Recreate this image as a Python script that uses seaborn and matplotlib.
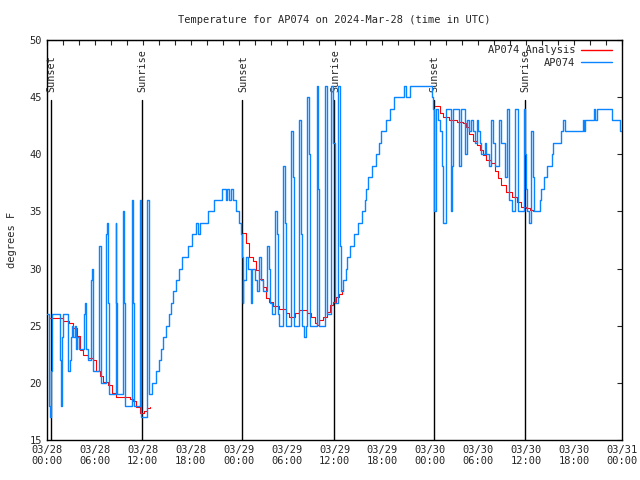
import numpy as np
import pandas as pd
import matplotlib
matplotlib.use("Agg")
import matplotlib.pyplot as plt
from matplotlib.ticker import MultipleLocator
import seaborn as sns

# observed temperature (hours since 03/28 00:00 UTC, degrees F)
obs_hours = [0.0, 0.2, 0.3, 0.4, 0.5, 0.6, 1.6, 1.7, 1.85, 2.0, 2.6, 2.85, 2.95, 3.1, 3.3, 3.5,
             3.6, 3.8, 4.0, 4.6, 4.7, 4.85, 5.1, 5.55, 5.65, 5.8, 6.45, 6.55, 6.7, 7.45, 7.55,
             7.7, 7.8, 8.6, 8.7, 8.8, 9.5, 9.7, 9.8, 10.6, 10.8, 10.9, 11.6, 11.75, 11.8, 12.5,
             12.75, 12.8, 13.2, 13.6, 14.05, 14.3, 14.5, 14.9, 15.3, 15.5, 15.8, 16.1, 16.5,
             16.9, 17.6, 18.2, 18.6, 18.95, 19.1, 20.1, 20.9, 21.9, 22.4, 22.6, 22.8, 23.0,
             23.25, 23.7, 24.0, 24.3, 24.45, 24.5, 24.6, 24.9, 25.2, 25.5, 25.7, 26.0, 26.3,
             26.6, 26.8, 27.1, 27.5, 27.75, 27.9, 28.2, 28.5, 28.75, 28.9, 29.1, 29.6, 29.8,
             29.9, 30.6, 30.8, 30.9, 31.6, 31.8, 31.9, 32.2, 32.4, 32.6, 32.85, 32.95, 33.75,
             33.95, 34.05, 34.8, 35.0, 35.6, 35.85, 36.0, 36.45, 36.7, 36.8, 37.1, 37.4, 37.6,
             38.0, 38.5, 38.9, 39.5, 39.8, 40.0, 40.2, 40.7, 41.2, 41.6, 41.8, 42.5, 43.0, 43.4,
             44.7, 44.9, 45.4, 48.2, 48.35, 48.45, 48.75, 48.9, 49.2, 49.4, 49.6, 49.9, 50.55,
             50.75, 50.9, 51.6, 51.9, 52.4, 52.6, 52.85, 53.15, 53.35, 53.6, 53.8, 54.0, 54.2,
             54.4, 54.8, 55.0, 55.3, 55.65, 55.85, 56.1, 56.6, 56.9, 57.3, 57.6, 57.8, 57.9,
             58.2, 58.55, 59.0, 59.7, 59.85, 59.95, 60.1, 60.3, 60.6, 60.8, 60.95, 61.7, 61.9,
             62.2, 62.55, 63.2, 63.4, 64.4, 64.6, 64.85, 67.15, 67.3, 67.4, 68.5, 68.6, 68.9,
             70.7, 71.7, 72.0]
obs_temps = [26, 22, 18, 17, 21, 26, 22, 18, 24, 26, 21, 22, 24, 25, 24, 25,
             23, 24, 23, 26, 27, 23, 22, 29, 30, 21, 31, 32, 20, 33, 34,
             27, 19, 34, 27, 19, 35, 27, 18, 36, 27, 18, 36, 27, 17, 36,
             27, 19, 20, 21, 22, 23, 24, 25, 26, 27, 28, 29, 30,
             31, 32, 33, 34, 33, 34, 35, 36, 37, 36, 37, 36, 37,
             36, 35, 34, 33, 31, 27, 29, 31, 30, 27, 30, 29, 28,
             31, 29, 28, 32, 30, 27, 26, 35, 33, 26, 25, 39, 34,
             25, 42, 38, 25, 43, 33, 25, 24, 25, 45, 40, 25, 46,
             37, 25, 46, 26, 46, 41, 27, 46, 32, 28, 29, 30, 31,
             32, 33, 34, 35, 36, 37, 38, 39, 40, 41, 42, 43, 44, 45,
             46, 45, 46, 45, 44, 35, 44, 43, 42, 39, 34, 44, 35,
             39, 44, 39, 44, 40, 43, 42, 43, 42, 41, 43, 42, 41,
             40, 41, 40, 39, 43, 41, 39, 43, 41, 38, 44, 37, 36,
             35, 44, 35, 44, 40, 37, 35, 34, 42, 38, 35, 36, 37,
             38, 39, 40, 41, 42, 43, 42, 43, 42, 43, 44, 43, 44,
             43, 42, 42]

# overnight analysis, one segment per night
ana1_hours = [0.4, 2.0, 2.8, 3.3, 3.7, 4.1, 4.5, 5.1, 5.8, 6.1, 6.6, 7.0, 7.6, 8.1, 8.7,
              10.4, 10.8, 11.2, 11.7, 12.1, 12.5, 12.9]
ana1_temps = [25.7, 25.4, 25.2, 24.8, 24.1, 22.9, 22.4, 22.2, 22.0, 21.0, 20.6, 20.1, 19.8,
              19.1, 18.8, 18.6, 18.4, 17.9, 17.4, 17.5, 17.8, 17.9]
ana2_hours = [24.6, 24.9, 25.3, 25.8, 26.2, 26.6, 27.0, 27.4, 27.8, 28.3, 29.1, 29.9, 30.3,
              31.0, 31.6, 32.5, 33.1, 33.5, 33.8, 34.1, 34.5, 35.0, 35.4, 35.8, 36.2, 36.6, 36.9]
ana2_temps = [33.1, 32.2, 31.0, 30.7, 29.9, 29.1, 28.4, 27.4, 27.1, 26.7, 26.5, 26.1, 25.8,
              26.1, 26.4, 26.1, 25.8, 25.2, 25.1, 25.5, 25.8, 26.2, 26.8, 27.1, 27.5, 27.8, 28.1]
ana3_hours = [48.6, 49.2, 49.6, 50.4, 51.3, 52.1, 52.5, 52.9, 53.3, 53.8, 54.2, 54.6, 55.0,
              55.6, 56.1, 56.5, 56.9, 57.5, 58.2, 58.8, 59.4, 60.0, 60.5, 60.9]
ana3_temps = [44.2, 43.6, 43.3, 43.0, 42.8, 42.7, 42.4, 41.8, 41.2, 40.8, 40.4, 39.9, 39.5,
              39.2, 38.5, 37.9, 37.3, 36.7, 36.3, 35.8, 35.4, 35.3, 35.1, 35.0]

sun_hours = [0.45, 11.9, 24.45, 35.95, 48.45, 59.85]
sun_labels = ["Sunset", "Sunrise", "Sunset", "Sunrise", "Sunset", "Sunrise"]

tick_hours = list(range(0, 73, 6))
tick_labels = ["03/28\n00:00", "03/28\n06:00", "03/28\n12:00", "03/28\n18:00",
               "03/29\n00:00", "03/29\n06:00", "03/29\n12:00", "03/29\n18:00",
               "03/30\n00:00", "03/30\n06:00", "03/30\n12:00", "03/30\n18:00",
               "03/31\n00:00"]

obs = pd.DataFrame({"hour": obs_hours, "temp": obs_temps})
ana = pd.concat([
    pd.DataFrame({"hour": ana1_hours, "temp": ana1_temps, "night": 1}),
    pd.DataFrame({"hour": ana2_hours, "temp": ana2_temps, "night": 2}),
    pd.DataFrame({"hour": ana3_hours, "temp": ana3_temps, "night": 3}),
])

sns.set_style("white")
plt.rcParams['font.family'] = ['DejaVu Sans Mono']
plt.rcParams['font.size'] = 7

fig = plt.figure(figsize=(6.4, 4.8), dpi=100)
ax = fig.add_axes([47 / 640, 40 / 480, 575 / 640, 400 / 480])

for h, lab in zip(sun_hours, sun_labels):
    ax.axvline(h, ymin=0, ymax=0.85, color="black", lw=1, zorder=1)
    ax.text(h + 0.1, 0.87, lab, transform=ax.get_xaxis_transform(), rotation=90,
            ha="center", va="bottom", fontsize=7.3)

sns.lineplot(data=ana, x="hour", y="temp", units="night", estimator=None, color="#ff0000",
             lw=0.8, drawstyle="steps-post", ax=ax, zorder=2)
sns.lineplot(data=obs, x="hour", y="temp", estimator=None, color="#0a84ff",
             lw=1.0, drawstyle="steps-post", ax=ax, zorder=3)

ax.plot([], [], color="#ff0000", lw=1, label="AP074 Analysis")
ax.plot([], [], color="#0a84ff", lw=1, label="AP074")
ax.legend(loc="upper right", bbox_to_anchor=(1.0, 1.0 + 5 / 400), frameon=False,
          markerfirst=False, handlelength=2.9, borderaxespad=0.6, labelspacing=0.25,
          handletextpad=0.6, fontsize=7.5)

ax.set_xlim(0, 72)
ax.set_ylim(15, 50)
ax.set_xticks(tick_hours)
ax.set_xticklabels(tick_labels)
ax.xaxis.set_minor_locator(MultipleLocator(3))
ax.yaxis.set_major_locator(MultipleLocator(5))
ax.tick_params(which="both", direction="in", top=False, right=True, labelsize=7.5,
               length=3.6, width=0.8)

# top axis carries ticks every 2 hours, no labels
top = ax.secondary_xaxis("top")
top.set_xticks(list(range(0, 73, 2)))
top.tick_params(direction="in", length=3.6, width=0.8, labeltop=False)

for s in ax.spines.values():
    s.set_color("black")
    s.set_linewidth(1)

ax.set_xlabel("")
ax.set_ylabel("degrees F", fontsize=7.5, labelpad=9)
ax.set_title("Temperature for AP074 on 2024-Mar-28 (time in UTC)", fontsize=7.5, pad=12)

fig.savefig("out.png", dpi=100)
